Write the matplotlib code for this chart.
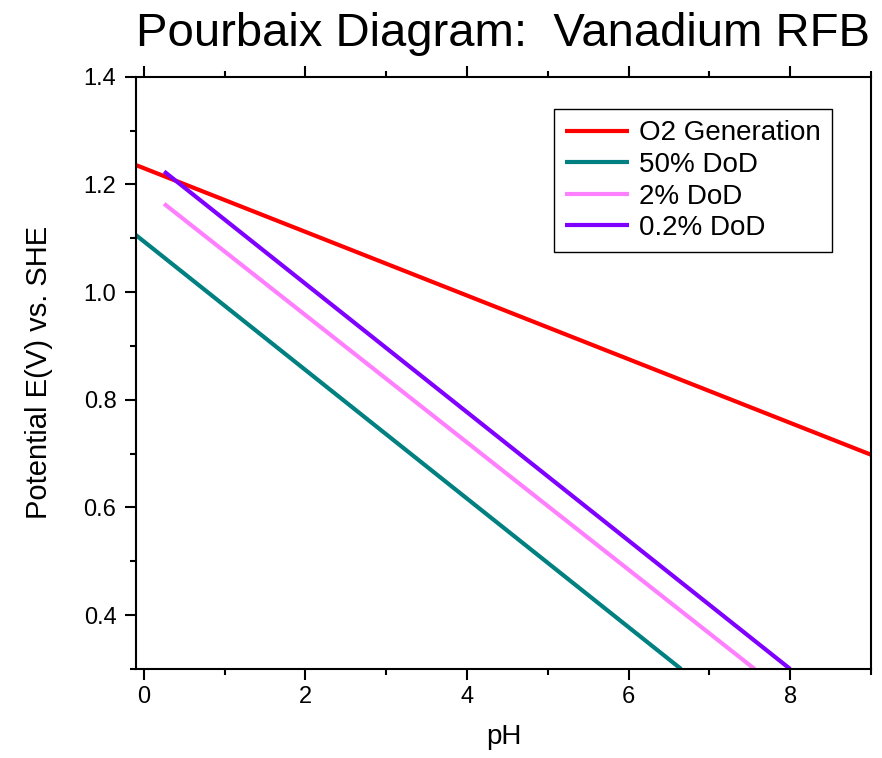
import matplotlib
matplotlib.use("Agg")
import matplotlib.pyplot as plt
from matplotlib.ticker import MultipleLocator

plt.rcParams['font.family'] = ['Liberation Sans', 'DejaVu Sans']

# values (pH, potential vs SHE)
o2_ph = [-0.1, 9.0]
o2_e = [1.236, 0.698]
dod50_ph = [-0.1, 6.65]
dod50_e = [1.106, 0.30]
dod2_ph = [0.25, 7.56]
dod2_e = [1.164, 0.30]
dod02_ph = [0.25, 8.0]
dod02_e = [1.224, 0.30]

labels = ["O2 Generation", "50% DoD", "2% DoD", "0.2% DoD"]
colors = ["#FF0000", "#008080", "#FF80FF", "#8000FF"]

fig = plt.figure(figsize=(8.82, 7.58), dpi=100)
ax = fig.add_axes([0.154, 0.1174, 0.8335, 0.7814])

series = [(o2_ph, o2_e), (dod50_ph, dod50_e), (dod2_ph, dod2_e), (dod02_ph, dod02_e)]
for (x, y), lab, c in zip(series, labels, colors):
    ax.plot(x, y, color=c, lw=3.0, label=lab, solid_capstyle='butt')

ax.set_xlim(-0.1, 9.0)
ax.set_ylim(0.3, 1.4)
ax.xaxis.set_major_locator(MultipleLocator(2))
ax.xaxis.set_minor_locator(MultipleLocator(1))
ax.yaxis.set_major_locator(MultipleLocator(0.2))
ax.yaxis.set_minor_locator(MultipleLocator(0.1))
ax.tick_params(which='both', direction='out', top=True, right=False, width=1.5, labelsize=17)
ax.tick_params(which='major', length=8)
ax.tick_params(which='minor', length=4)
ax.tick_params(axis='y', pad=6)
ax.tick_params(axis='x', pad=4)
for s in ax.spines.values():
    s.set_linewidth(1.5)

ax.set_xlabel("pH", fontsize=20, labelpad=12)
ax.set_ylabel("Potential E(V) vs. SHE", fontsize=21, labelpad=22)
ax.set_title("Pourbaix Diagram:  Vanadium RFB", fontsize=34, pad=22)

leg = ax.legend(loc='upper right', bbox_to_anchor=(0.9466, 0.945), fontsize=20,
                fancybox=False, framealpha=1, edgecolor='black', borderaxespad=0,
                handlelength=2.3, handletextpad=0.35, labelspacing=0.2, borderpad=0.4)
leg.get_frame().set_linewidth(1.0)

fig.savefig("out.png", dpi=100)
